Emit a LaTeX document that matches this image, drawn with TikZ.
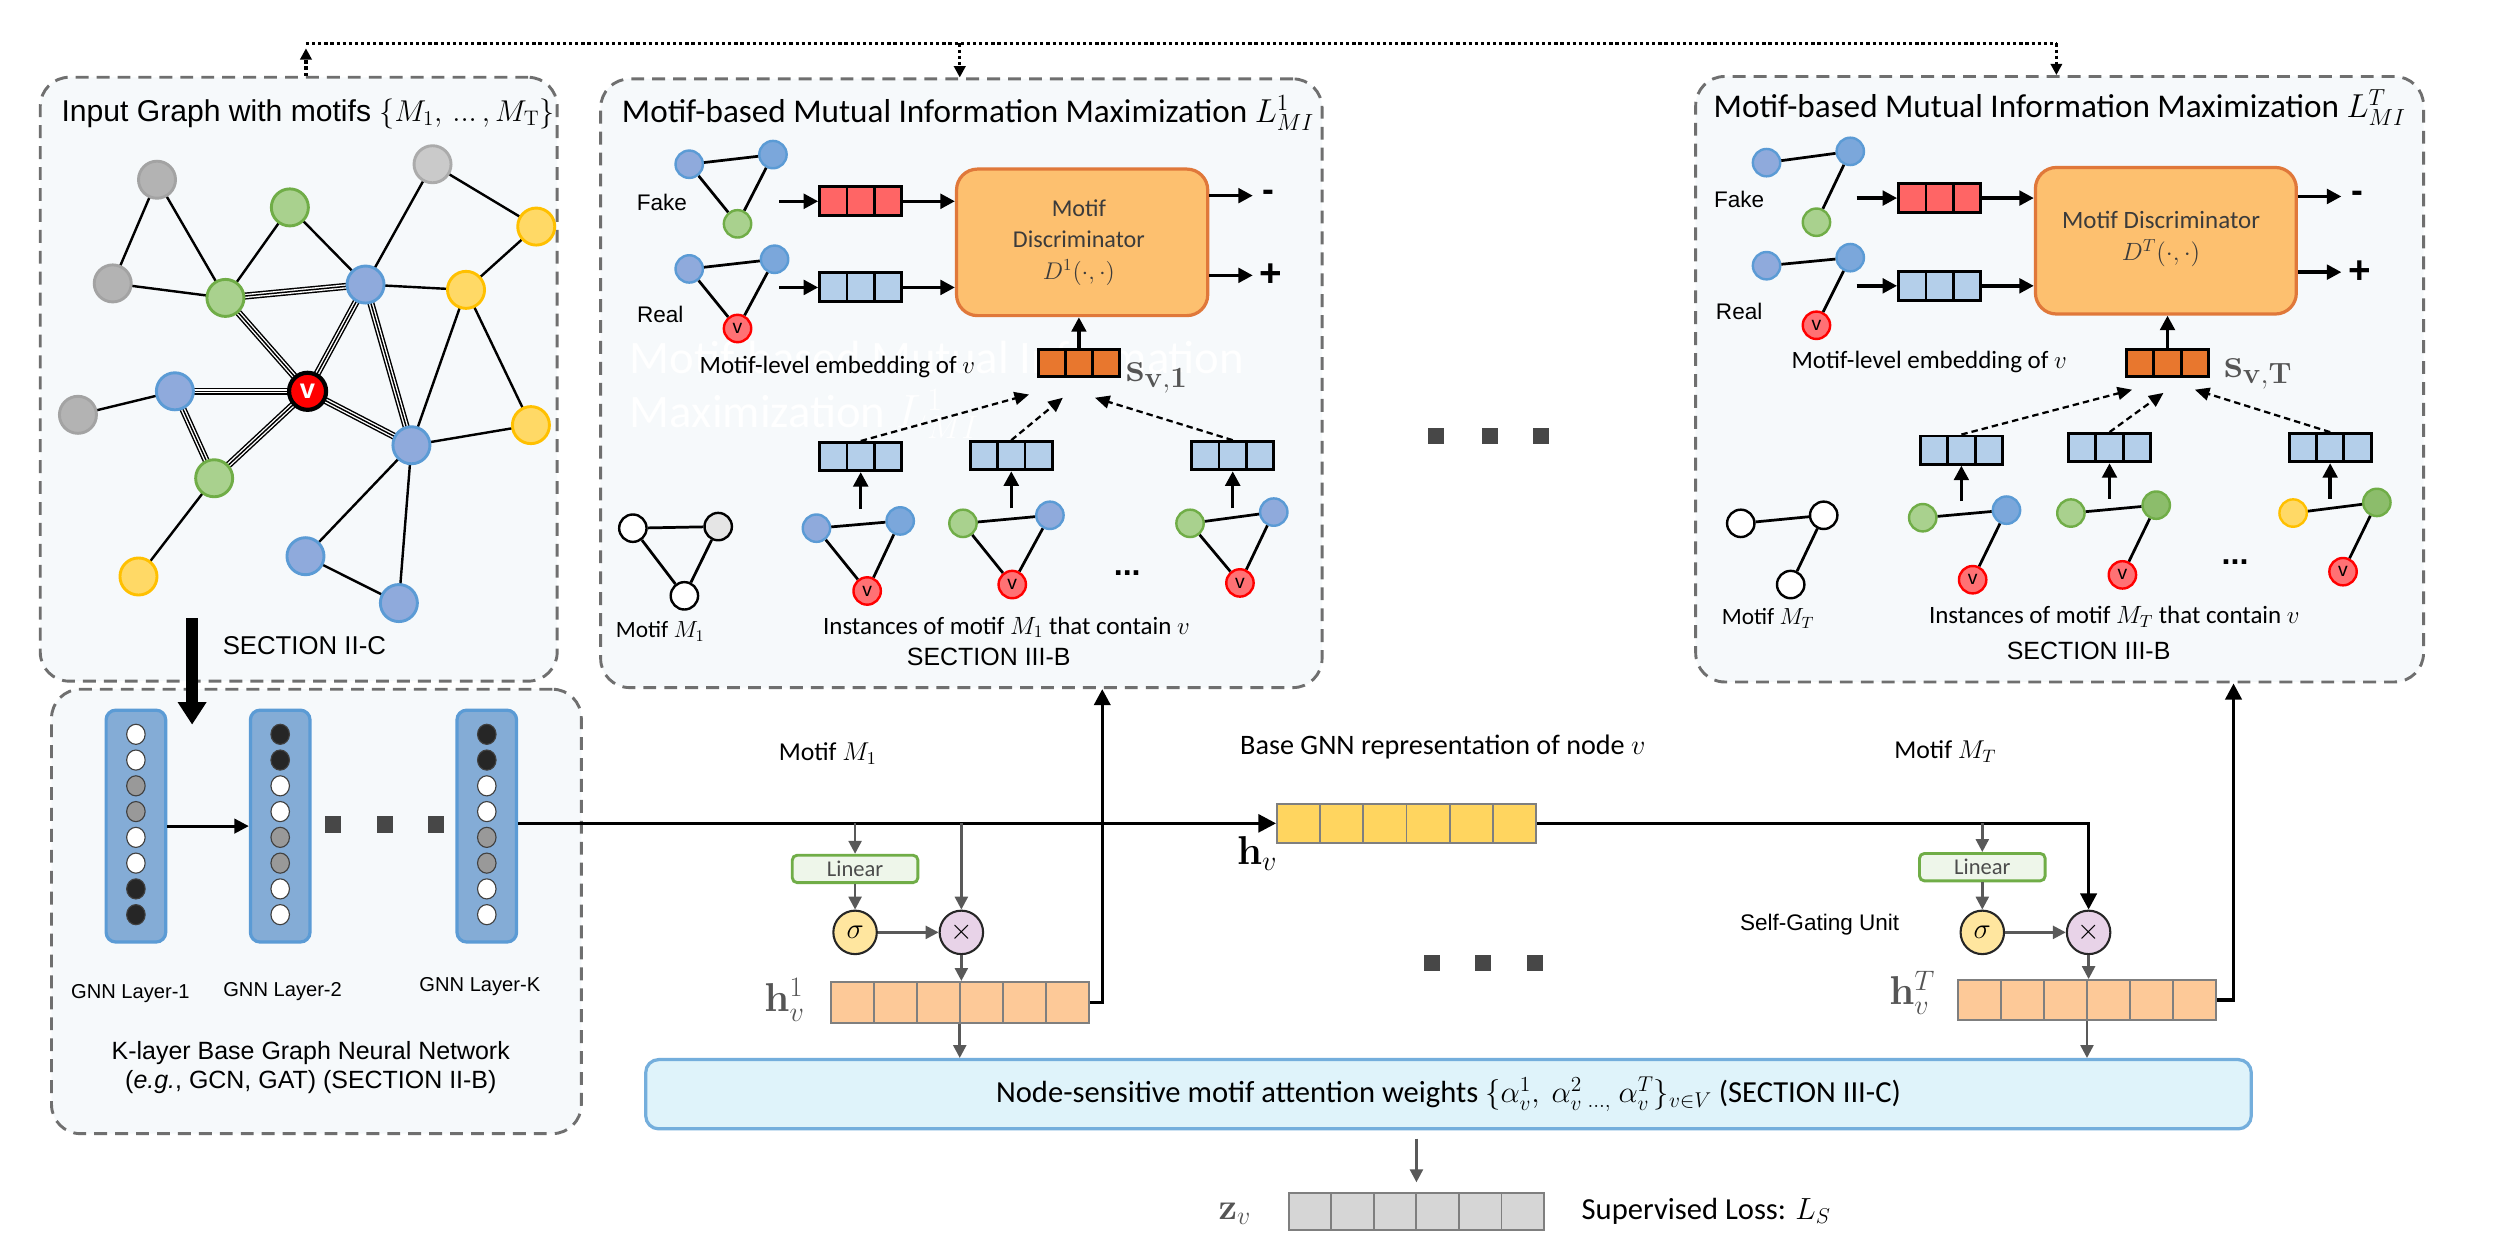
\RequirePackage{fix-cm}
\documentclass[tikz,border=0pt]{standalone}
\usepackage[no-math]{fontspec}
\setmainfont{Liberation Sans}
\newfontfamily\calib{Carlito}
\usetikzlibrary{arrows.meta,calc,shapes.geometric}
\pgfdeclarelayer{back}
\pgfdeclarelayer{mid}
\pgfsetlayers{back,mid,main}
\newcommand\fA[1]{\fontsize{#1}{#1}\selectfont}
\newcommand\fC[1]{\calib\fontsize{#1}{#1}\selectfont}

\definecolor{panelfill}{HTML}{F6F9FB}
\definecolor{panelline}{HTML}{6F6F6F}
\definecolor{ngrayf}{HTML}{B3B3B3}
\definecolor{ngrayd}{HTML}{A3A3A3}
\definecolor{nlgrayf}{HTML}{CACACA}
\definecolor{nlgrayd}{HTML}{ABABAB}
\definecolor{ngreenf}{HTML}{A9D18E}
\definecolor{ngreend}{HTML}{70AD47}
\definecolor{ndgreenf}{HTML}{8CBD6B}
\definecolor{nbluef}{HTML}{8FAADC}
\definecolor{nblued}{HTML}{5B9BD5}
\definecolor{nbluebf}{HTML}{7BA7DB}
\definecolor{nyellowf}{HTML}{FFD966}
\definecolor{nyellowd}{HTML}{FFC000}
\definecolor{vinstf}{HTML}{FF7174}
\definecolor{layerf}{HTML}{84ACD6}
\definecolor{layerd}{HTML}{5B9BD5}
\definecolor{discf}{HTML}{FDC06F}
\definecolor{discd}{HTML}{E0783A}
\definecolor{fakef}{HTML}{FF6565}
\definecolor{realf}{HTML}{B4CFEA}
\definecolor{sfill}{HTML}{E8772E}
\definecolor{hvf}{HTML}{FFD55F}
\definecolor{hfill}{HTML}{FDC998}
\definecolor{cellgray}{HTML}{7F7F7F}
\definecolor{linf}{HTML}{EEF6EA}
\definecolor{sigf}{HTML}{FFE69F}
\definecolor{mulf}{HTML}{E8D3E8}
\definecolor{attf}{HTML}{DFF3FA}
\definecolor{attd}{HTML}{74AEDC}
\definecolor{zfill}{HTML}{D6D6D6}
\definecolor{garr}{HTML}{595959}
\definecolor{dtext}{HTML}{3B3B3B}
\definecolor{labgray}{HTML}{555555}
\definecolor{sqcol}{HTML}{474747}

\tikzset{
  panel/.style={draw=panelline, fill=panelfill, line width=1.8pt, dash pattern=on 8pt off 5pt, rounded corners=18pt, inner sep=0pt},
  gn/.style={circle, minimum size=23pt, inner sep=0pt, line width=1.8pt},
  ggray/.style={gn, fill=ngrayf, draw=ngrayd},
  glgray/.style={gn, fill=nlgrayf, draw=nlgrayd},
  ggreen/.style={gn, fill=ngreenf, draw=ngreend},
  gblue/.style={gn, fill=nbluef, draw=nblued},
  gyellow/.style={gn, fill=nyellowf, draw=nyellowd},
  gv/.style={gn, fill=red, draw=black, line width=2.6pt, text=white, font=\bfseries\fA{17}},
  gedge/.style={line width=1.5pt},
  triple/.style={line width=4.4pt, postaction={draw=white, line width=2.6pt}, postaction={draw=black, line width=0.9pt}},
  sn/.style={circle, minimum size=17pt, inner sep=0pt, line width=1.5pt},
  sblue/.style={sn, fill=nbluef, draw=nblued},
  sblueb/.style={sn, fill=nbluebf, draw=nblued},
  sgreen/.style={sn, fill=ngreenf, draw=ngreend},
  sdgreen/.style={sn, fill=ndgreenf, draw=ngreend},
  syellow/.style={sn, fill=nyellowf, draw=nyellowd},
  swhite/.style={sn, fill=white, draw=black},
  sgray/.style={sn, fill=black!10, draw=black},
  sv/.style={sn, fill=vinstf, draw=red, text=black, font=\fA{12}},
  sedge/.style={line width=1.7pt},
  lrect/.style={rounded corners=6pt, fill=layerf, draw=layerd, line width=2pt, minimum width=37pt, minimum height=144pt, inner sep=0pt},
  lcirc/.style={ellipse, minimum width=11.5pt, minimum height=12.5pt, inner sep=0pt, draw=black!75, line width=0.7pt},
  lcw/.style={lcirc, fill=white},
  lcg/.style={lcirc, fill=black!40},
  lcb/.style={lcirc, fill=black!85},
  sq/.style={rectangle, fill=sqcol, minimum size=10pt, inner sep=0pt},
  vec/.style={draw=black, line width=1.8pt, minimum width=51pt, minimum height=18pt, inner sep=0pt},
  cells/.style n args={3}{path picture={
     \foreach \k in {1,...,#2}{
       \draw[#3] ($(path picture bounding box.south west)!\k/#1!(path picture bounding box.south east)$) --
                 ($(path picture bounding box.north west)!\k/#1!(path picture bounding box.north east)$);
     }}},
  hvec/.style={draw=cellgray, line width=1.2pt, minimum width=160.5pt, minimum height=25pt, inner sep=0pt, cells={6}{5}{draw=cellgray, line width=1.2pt}},
  disc/.style={draw=discd, fill=discf, line width=2pt, rounded corners=13pt, inner sep=0pt},
  barrow/.style={line width=2.2pt, -{Triangle[length=9pt,width=9pt]}},
  garrow/.style={draw=garr, line width=1.6pt, -{Triangle[length=8pt,width=8pt]}},
  darrow/.style={line width=1.4pt, dash pattern=on 4pt off 2.5pt, -{Triangle[length=9pt,width=8pt]}},
  mline/.style={line width=2.2pt},
  dotl/.style={line width=2pt, dash pattern=on 2pt off 1.8pt},
  linbox/.style={draw=ngreend, fill=linf, line width=1.8pt, rounded corners=3pt, minimum width=78pt, minimum height=17pt, inner sep=0pt, font=\fC{14}, text=black!70},
  sigbox/.style={circle, draw=black!85, fill=sigf, line width=1.3pt, minimum size=27pt, inner sep=0pt, font=\fA{18}},
  mulbox/.style={circle, draw=black!85, fill=mulf, line width=1.3pt, minimum size=27pt, inner sep=0pt, font=\fA{18}},
  lab/.style={inner sep=0pt},
}

\begin{document}
\begin{tikzpicture}[x=1pt,y=-1pt]
\useasboundingbox (0,0) rectangle (1550,775);
\begin{pgfonlayer}{back}
\fill[white] (0,0) rectangle (1550,775);
\node[panel, minimum width=321pt, minimum height=375pt] (pin) at (185.5,235.5) {};
\node[panel, minimum width=329pt, minimum height=276pt] (pgnn) at (196.5,566) {};
\node[panel, minimum width=448pt, minimum height=378pt] (pmid) at (597,238) {};
\node[panel, minimum width=452pt, minimum height=376pt] (prt) at (1279,235.5) {};
% faint white watermark text
\node[lab, anchor=west, text=white, font=\fC{29}] (wm1) at (391,222) {Motif-based Mutual Information};
\node[lab, anchor=west, text=white, font=\fC{29}] (wm2) at (391,257) {Maximization $L^{1}_{MI}$};
\end{pgfonlayer}

% ---------- top dotted connector ----------
\coordinate (tl) at (190,27);
\coordinate (tm) at (596,27);
\coordinate (tr) at (1277,27);
\draw[dotl] (tl) -- (tr);
\draw[dotl, -{Triangle[length=7pt,width=7pt]}] (tl |- pin.north) -- ($(tl)+(0,3)$);
\draw[dotl, -{Triangle[length=7pt,width=7pt]}] (tm) -- (tm |- pmid.north);
\draw[dotl, -{Triangle[length=7pt,width=7pt]}] (tr) -- (tr |- prt.north);

% ---------- input graph ----------
\node[lab, anchor=west, font=\fA{18.7}] (tin) at (38,70.6) {Input Graph with motifs $\{M_1,\,...\,,M_{\mathrm{T}}\}$};
\node[ggray] (gr1) at (97.5,111.6) {};
\node[ggray] (gr2) at (70,176) {};
\node[ggray] (gr3) at (48.4,257.6) {};
\node[glgray] (gr4) at (268.6,102) {};
\node[ggreen] (gn1) at (180,128.8) {};
\node[ggreen] (gn2) at (140,185) {};
\node[ggreen] (gn3) at (133,297) {};
\node[gblue] (bl1) at (227,176.7) {};
\node[gblue] (bl2) at (108.6,243) {};
\node[gblue] (bl3) at (255.5,276.5) {};
\node[gblue] (bl4) at (189.7,345.4) {};
\node[gblue] (bl5) at (247.7,374.5) {};
\node[gyellow] (ye1) at (333,140.7) {};
\node[gyellow] (ye2) at (289.4,180) {};
\node[gyellow] (ye3) at (329.7,264) {};
\node[gyellow] (ye4) at (86,358) {};
\node[gv] (vv) at (191,243) {v};
\begin{pgfonlayer}{mid}
\foreach \a/\b in {gr1/gr2,gr1/gn2,gr2/gn2,gn1/gn2,gn1/bl1,gr4/bl1,gr4/ye1,bl1/ye2,ye1/ye2,ye2/bl3,ye2/ye3,gr3/bl2,gn3/ye4,bl3/ye3,bl3/bl4,bl3/bl5,bl4/bl5}
  \draw[gedge] (\a.center) -- (\b.center);
\foreach \a/\b in {gn2/bl1,gn2/vv,bl1/vv,bl1/bl3,vv/bl3,bl2/vv,bl2/gn3,gn3/vv}
  \draw[triple] (\a.center) -- (\b.center);
\end{pgfonlayer}
\node[font=\fA{16}] (sec2c) at (189,401) {SECTION II-C};
\coordinate (thA) at (119.3,384);
\coordinate (thB) at (119.3,450);
\draw[line width=7.8pt, -{Triangle[length=14pt,width=17pt]}] (thA) -- (thB);

% ---------- GNN layers ----------
\node[lrect] (L1) at (84.4,513) {};
\node[lrect] (L2) at (174,513) {};
\node[lrect] (LK) at (302.3,513) {};
\foreach \c [count=\i] in {lcw,lcw,lcg,lcg,lcw,lcw,lcb,lcb} \node[\c] (La\i) at (84.4,{440+16*\i}) {};
\foreach \c [count=\i] in {lcb,lcb,lcw,lcw,lcg,lcg,lcw,lcw} \node[\c] (Lb\i) at (174,{440+16*\i}) {};
\foreach \c [count=\i] in {lcb,lcb,lcw,lcw,lcg,lcg,lcw,lcw} \node[\c] (Lc\i) at (302.3,{440+16*\i}) {};
\draw[line width=1.8pt, -{Triangle[length=9pt,width=9pt]}] (L1.east) -- (L2.west);
\node[sq] (dg1) at (207,512) {};
\node[sq] (dg2) at (239,512) {};
\node[sq] (dg3) at (271,512) {};
\node[font=\fA{12.5}] (ln1) at (81,617) {GNN Layer-1};
\node[font=\fA{12.5}] (ln2) at (175.5,615.6) {GNN Layer-2};
\node[font=\fA{12.5}] (lnk) at (298,612.5) {GNN Layer-K};
\node[font=\fA{15.5}, align=center] (kl) at (193,663) {K-layer Base Graph Neural Network\\[3pt](\textit{e.g.}, GCN, GAT) (SECTION II-B)};

% ---------- middle MI panel ----------
\node[lab, anchor=west, font=\fC{20.6}] (tmid) at (386,70) {Motif-based Mutual Information Maximization $L^{1}_{MI}$};
\node[sblue] (fa1) at (428,102) {};
\node[sblueb] (fb1) at (480,96) {};
\node[sgreen] (fc1) at (458,139) {};
\node[sblue] (ra1) at (428,167) {};
\node[sblueb] (rb1) at (481,161) {};
\node[sv] (rv1) at (458,204) {v};
\foreach \a/\b in {fa1/fb1,fa1/fc1,fb1/fc1,ra1/rb1,ra1/rv1,rb1/rv1} \draw[sedge] (\a) -- (\b);
\node[font=\fA{14}] (fake1) at (411,126) {Fake};
\node[font=\fA{14}] (real1) at (410,195) {Real};
\node[vec, fill=fakef, cells={3}{2}{line width=1.8pt}] (fk1) at (534.5,125) {};
\node[vec, fill=realf, cells={3}{2}{line width=1.8pt}] (rl1) at (534.5,178.5) {};
\coordinate (fk1s) at (484,125);
\coordinate (rl1s) at (484,178.5);
\draw[barrow] (fk1s) -- (fk1.west);
\draw[barrow] (rl1s) -- (rl1.west);
\node[disc, minimum width=156pt, minimum height=91pt] (D1) at (672,150.5) {};
\node[align=center, text=dtext, font=\fC{15}] (D1t) at (670,150.5) {Motif\\[4.5pt]Discriminator\\[4.5pt]$D^1(\cdot,\cdot)$};
\draw[barrow] (fk1.east) -- (fk1.east -| D1.west);
\draw[barrow] (rl1.east) -- (rl1.east -| D1.west);
\node[lab, anchor=west, font=\bfseries\fA{22}] (mn1) at (784,121.5) {-};
\node[lab, anchor=west, font=\bfseries\fA{24}] (pl1) at (782,171) {+};
\draw[barrow] (D1.east |- mn1) -- ($(mn1.west)+(-6,0)$);
\draw[barrow] (D1.east |- pl1) -- ($(pl1.west)+(-4,0)$);
\node[vec, fill=sfill, minimum width=50pt, minimum height=17pt, cells={3}{2}{line width=1.8pt}] (s1) at (670,225.5) {};
\draw[barrow] (s1.north) -- (s1.north |- D1.south);
\node[lab, anchor=base west, text=labgray, font=\fA{26}] (s1l) at (699,237) {$\mathbf{s}_{\mathbf{v},\mathbf{1}}$};
\node[font=\fC{15.5}] (mle1) at (520,228) {Motif-level embedding of $v$};
\node[vec, fill=realf, minimum height=17.5pt, cells={3}{2}{line width=1.8pt}] (i11) at (534.5,283.5) {};
\node[vec, fill=realf, minimum height=17.5pt, cells={3}{2}{line width=1.8pt}] (i12) at (628,283) {};
\node[vec, fill=realf, minimum height=17.5pt, cells={3}{2}{line width=1.8pt}] (i13) at (765.5,283) {};
\coordinate (d11) at (639,245);
\coordinate (d12) at (660,247);
\coordinate (d13) at (680,247);
\draw[darrow] (i11.north) -- (d11);
\draw[darrow] (i12.north) -- (d12);
\draw[darrow] (i13.north) -- (d13);
\node[swhite] (m1a) at (393,328) {};
\node[sgray] (m1b) at (446,327) {};
\node[swhite] (m1c) at (425,370) {};
\node[sblue] (p1a) at (507,328) {};
\node[sblueb] (p1b) at (559,323.5) {};
\node[sv] (p1v) at (538.5,367) {v};
\node[sgreen] (p2a) at (598,325) {};
\node[sblue] (p2b) at (652,320) {};
\node[sv] (p2v) at (628.6,363) {v};
\node[sgreen] (p3a) at (739,325) {};
\node[sblue] (p3b) at (791,318) {};
\node[sv] (p3v) at (770,362) {v};
\foreach \a/\b in {m1a/m1b,m1a/m1c,m1b/m1c,p1a/p1b,p1a/p1v,p1b/p1v,p2a/p2b,p2a/p2v,p2b/p2v,p3a/p3b,p3a/p3v,p3b/p3v} \draw[sedge] (\a) -- (\b);
\draw[barrow] ($(i11.south)+(0,23)$) -- (i11.south);
\draw[barrow] ($(i12.south)+(0,23)$) -- (i12.south);
\draw[barrow] ($(i13.south)+(0,23)$) -- (i13.south);
\node[font=\bfseries\fA{20}] (dots1) at (700,356) {...};
\node[font=\fC{14.5}] (mm1) at (410,392) {Motif $M_1$};
\node[font=\fC{15.5}] (ins1) at (625,389.5) {Instances of motif $M_1$ that contain $v$};
\node[font=\fA{15.5}] (sec3b1) at (614,408) {SECTION III-B};

% ---------- middle dots ----------
\node[sq] (dm1) at (892,271) {};
\node[sq] (dm2) at (925,271) {};
\node[sq] (dm3) at (957,271) {};

% ---------- right MI panel ----------
\node[lab, anchor=west, font=\fC{20.6}] (trt) at (1064,67) {Motif-based Mutual Information Maximization $L^{T}_{MI}$};
\node[sblue] (fa2) at (1097,101) {};
\node[sblueb] (fb2) at (1149,94) {};
\node[sgreen] (fc2) at (1128,138) {};
\node[sblue] (ra2) at (1097,165) {};
\node[sblueb] (rb2) at (1149,160) {};
\node[sv] (rv2) at (1128,202) {v};
\foreach \a/\b in {fa2/fb2,fb2/fc2,ra2/rb2,rb2/rv2} \draw[sedge] (\a) -- (\b);
\node[font=\fA{14}] (fake2) at (1080,124) {Fake};
\node[font=\fA{14}] (real2) at (1080,193.7) {Real};
\node[vec, fill=fakef, cells={3}{2}{line width=1.8pt}] (fk2) at (1204.5,123) {};
\node[vec, fill=realf, cells={3}{2}{line width=1.8pt}] (rl2) at (1204.5,177.5) {};
\coordinate (fk2s) at (1153,123);
\coordinate (rl2s) at (1153,177.5);
\draw[barrow] (fk2s) -- (fk2.west);
\draw[barrow] (rl2s) -- (rl2.west);
\node[disc, minimum width=162pt, minimum height=91pt] (DT) at (1345,149.5) {};
\node[align=center, text=dtext, font=\fC{15.5}] (DTt) at (1342,148.5) {Motif Discriminator\\[4pt]$D^T(\cdot,\cdot)$};
\draw[barrow] (fk2.east) -- (fk2.east -| DT.west);
\draw[barrow] (rl2.east) -- (rl2.east -| DT.west);
\node[lab, anchor=west, font=\bfseries\fA{22}] (mn2) at (1460,122) {-};
\node[lab, anchor=west, font=\bfseries\fA{24}] (pl2) at (1458,169) {+};
\draw[barrow] (DT.east |- mn2) -- ($(mn2.west)+(-6,0)$);
\draw[barrow] (DT.east |- pl2) -- ($(pl2.west)+(-4,0)$);
\node[vec, fill=sfill, minimum width=51pt, minimum height=17pt, cells={3}{2}{line width=1.8pt}] (sT) at (1346,225.5) {};
\draw[barrow] (sT.north) -- (sT.north |- DT.south);
\node[lab, anchor=base west, text=labgray, font=\fA{26}] (sTl) at (1381,234.5) {$\mathbf{s}_{\mathbf{v},\mathbf{T}}$};
\node[font=\fC{15.5}] (mle2) at (1198,225) {Motif-level embedding of $v$};
\node[vec, fill=realf, minimum height=17.5pt, cells={3}{2}{line width=1.8pt}] (j1) at (1218,279.5) {};
\node[vec, fill=realf, minimum height=17.5pt, cells={3}{2}{line width=1.8pt}] (j2) at (1310,278) {};
\node[vec, fill=realf, minimum height=17.5pt, cells={3}{2}{line width=1.8pt}] (j3) at (1447,278) {};
\coordinate (e1) at (1324,242);
\coordinate (e2) at (1343.5,244);
\coordinate (e3) at (1363,242);
\draw[darrow] (j1.north) -- (e1);
\draw[darrow] (j2.north) -- (e2);
\draw[darrow] (j3.north) -- (e3);
\node[swhite] (mta) at (1081,325) {};
\node[swhite] (mtb) at (1132.5,320) {};
\node[swhite] (mtc) at (1112,363) {};
\node[sgreen] (t1a) at (1194,321.5) {};
\node[sblueb] (t1b) at (1246,316.8) {};
\node[sv] (t1v) at (1225,360) {v};
\node[sgreen] (t2a) at (1286,318.6) {};
\node[sdgreen] (t2b) at (1339,313.7) {};
\node[sv] (t2v) at (1318,357) {v};
\node[syellow] (t3a) at (1424,318.6) {};
\node[sdgreen] (t3b) at (1476,312) {};
\node[sv] (t3v) at (1455,355) {v};
\foreach \a/\b in {mta/mtb,mtb/mtc,t1a/t1b,t1b/t1v,t2a/t2b,t2b/t2v,t3a/t3b,t3b/t3v} \draw[sedge] (\a) -- (\b);
\draw[barrow] ($(j1.south)+(0,22)$) -- (j1.south);
\draw[barrow] ($(j2.south)+(0,22)$) -- (j2.south);
\draw[barrow] ($(j3.south)+(0,22)$) -- (j3.south);
\node[font=\bfseries\fA{20}] (dots2) at (1388,349) {...};
\node[font=\fC{14.5}] (mmt) at (1098,384) {Motif $M_T$};
\node[font=\fC{15.5}] (ins2) at (1313,383) {Instances of motif $M_T$ that contain $v$};
\node[font=\fA{15.5}] (sec3b2) at (1297,404) {SECTION III-B};

% ---------- bottom: base representation and gating ----------
\node[hvec, fill=hvf, minimum width=160.7pt, minimum height=24.6pt] (hv) at (873.4,511.3) {};
\node[lab, anchor=base west, font=\fA{25}] (hvl) at (768,537) {$\mathbf{h}_{v}$};
\node[font=\fC{16}] (mot1) at (514,468) {Motif $M_1$};
\node[font=\fC{17.5}] (bgr) at (896,464) {Base GNN representation of node $v$};
\node[font=\fC{16}] (motT) at (1208,467) {Motif $M_T$};
\draw[mline, -{Triangle[length=11pt,width=11pt]}] (LK.east |- hv.west) -- (hv.west);

\node[linbox] (lin1) at (531,539.6) {Linear};
\node[sigbox] (sig1) at (531,579) {$\sigma$};
\node[mulbox] (mul1) at (597,579) {$\times$};
\node[hvec, fill=hfill, minimum height=25.5pt] (hv1) at (596,622.5) {};
\node[lab, anchor=base west, text=labgray, font=\fA{25}] (hv1l) at (474.5,628) {$\mathbf{h}^{1}_{v}$};
\draw[garrow] (lin1.north |- hv.west) -- (lin1.north);
\draw[garrow] (mul1.north |- hv.west) -- (mul1.north);
\draw[garrow] (lin1.south) -- (sig1.north);
\draw[garrow] (sig1.east) -- (mul1.west);
\draw[garrow] (mul1.south) -- (mul1.south |- hv1.north);
\coordinate (up1) at (684.5,622.5);
\draw[mline, -{Triangle[length=10pt,width=10pt]}] (hv1.east) -- (up1) -- (up1 |- pmid.south);

\node[sq] (db1) at (889,598) {};
\node[sq] (db2) at (921,598) {};
\node[sq] (db3) at (953,598) {};

\node[linbox] (lin2) at (1231,538.5) {Linear};
\node[sigbox] (sig2) at (1231,579) {$\sigma$};
\node[mulbox] (mul2) at (1297,579) {$\times$};
\node[font=\fA{14}] (sgu) at (1130,574.5) {Self-Gating Unit};
\node[hvec, fill=hfill] (hvT) at (1296,621.1) {};
\node[lab, anchor=base west, text=labgray, font=\fA{25}] (hvTl) at (1173,624) {$\mathbf{h}^{T}_{v}$};
\draw[mline, -{Triangle[length=10pt,width=10pt]}] (hv.east) -- (mul2.north |- hv.east) -- (mul2.north);
\draw[garrow] (lin2.north |- hv.east) -- (lin2.north);
\draw[garrow] (lin2.south) -- (sig2.north);
\draw[garrow] (sig2.east) -- (mul2.west);
\draw[garrow] (mul2.south) -- (mul2.south |- hvT.north);
\coordinate (up2) at (1387,621.1);
\draw[mline, -{Triangle[length=10pt,width=10pt]}] (hvT.east) -- (up2) -- (up2 |- prt.south);

% ---------- attention and output ----------
\node[draw=attd, fill=attf, line width=2pt, rounded corners=8pt, minimum width=997pt, minimum height=43pt, inner sep=0pt, font=\fC{19}] (att) at (899.5,679.5)
  {Node-sensitive motif attention weights $\{\alpha_v^1,\ \alpha_v^2\,{}_{\dots,}\ \alpha_v^T\}_{v\in V}$ (SECTION III-C)};
\draw[garrow] (hv1.south) -- (hv1.south |- att.north);
\draw[garrow] (hvT.south) -- (hvT.south |- att.north);
\node[hvec, fill=zfill, minimum width=158.4pt, minimum height=23.2pt] (zv) at (879.6,752.4) {};
\draw[garrow] ($(att.south -| zv.north)+(0,5)$) -- ($(zv.north)+(0,-6)$);
\node[lab, anchor=base west, text=labgray, font=\fA{23}] (zvl) at (756.5,757) {$\mathbf{z}_{v}$};
\node[lab, anchor=west, font=\fC{19}] (sup) at (982,752) {Supervised Loss: $L_S$};
\end{tikzpicture}
\end{document}
